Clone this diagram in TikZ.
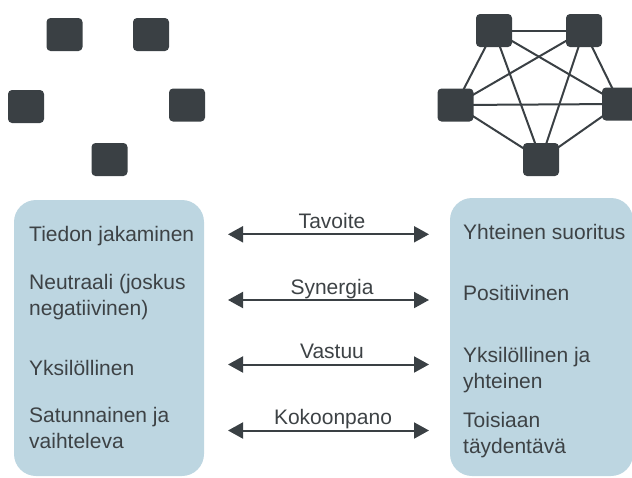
\documentclass[tikz,border=0pt]{standalone}
\usepackage{fontspec}
\setmainfont{Liberation Sans}
\usetikzlibrary{arrows.meta}
\definecolor{boxfill}{HTML}{BDD6E1}
\definecolor{dark}{HTML}{3A4044}
\definecolor{ink}{HTML}{3D4245}
\begin{document}
\begin{tikzpicture}[x=1pt,y=-1pt,
  member/.style={fill=dark,rounded corners=4pt,minimum width=36pt,minimum height=33pt,inner sep=0pt},
  panel/.style={fill=boxfill,rounded corners=22pt},
  item/.style={anchor=base west,inner sep=0pt,text=ink,font=\fontsize{21}{26}\selectfont},
  tag/.style={anchor=base,inner sep=0pt,text=ink,font=\fontsize{21}{26}\selectfont},
  link/.style={draw=dark,line width=2pt},
  twoway/.style={draw=dark,line width=2pt,{Triangle[length=15pt,width=16pt]}-{Triangle[length=15pt,width=16pt]}}]
\useasboundingbox (0,0) rectangle (632,477);

% scattered individuals
\node[member] (s1) at (64.5,34.5) {};
\node[member] (s2) at (151,34.5) {};
\node[member] (s3) at (26,106.5) {};
\node[member] (s4) at (187,105) {};
\node[member] (s5) at (109.5,159.5) {};

% fully connected team
\coordinate (ta) at (494,30.5);
\coordinate (tb) at (584,30.5);
\coordinate (tc) at (455.5,105);
\coordinate (td) at (620,104);
\coordinate (te) at (541,159.5);
\foreach \p/\q in {ta/tb,ta/tc,ta/td,ta/te,tb/tc,tb/td,tb/te,tc/td,tc/te,td/te}
  \draw[link] (\p) -- (\q);
\node[member] (t1) at (ta) {};
\node[member] (t2) at (tb) {};
\node[member] (t3) at (tc) {};
\node[member] (t4) at (td) {};
\node[member] (t5) at (te) {};

% comparison panels
\path[panel] (14,200) rectangle (204,476);
\path[panel] (450,198) rectangle (633,476);

\node[item] (g1) at (29,241) {Tiedon jakaminen};
\node[item] (g2) at (29,289) {\begin{tabular}[t]{@{}l@{}}Neutraali (joskus\\negatiivinen)\end{tabular}};
\node[item] (g3) at (29,375) {Yksilöllinen};
\node[item] (g4) at (29,422.5) {\begin{tabular}[t]{@{}l@{}}Satunnainen ja\\vaihteleva\end{tabular}};

\node[item] (h1) at (463,239) {Yhteinen suoritus};
\node[item] (h2) at (463,300) {Positiivinen};
\node[item] (h3) at (463,362.5) {\begin{tabular}[t]{@{}l@{}}Yksilöllinen ja\\yhteinen\end{tabular}};
\node[item] (h4) at (463,427) {\begin{tabular}[t]{@{}l@{}}Toisiaan\\täydentävä\end{tabular}};

% dimension arrows
\coordinate (a1l) at (228,234.3); \coordinate (a1r) at (429,234.3);
\coordinate (a2l) at (228,300);   \coordinate (a2r) at (429,300);
\coordinate (a3l) at (228,364.5); \coordinate (a3r) at (429,364.5);
\coordinate (a4l) at (228,430.5); \coordinate (a4r) at (429,430.5);
\draw[twoway] (a1l) -- (a1r);
\draw[twoway] (a2l) -- (a2r);
\draw[twoway] (a3l) -- (a3r);
\draw[twoway] (a4l) -- (a4r);
\node[tag] (k1) at (332,228) {Tavoite};
\node[tag] (k2) at (332,294) {Synergia};
\node[tag] (k3) at (332,358) {Vastuu};
\node[tag] (k4) at (333,424) {Kokoonpano};
\end{tikzpicture}
\end{document}
